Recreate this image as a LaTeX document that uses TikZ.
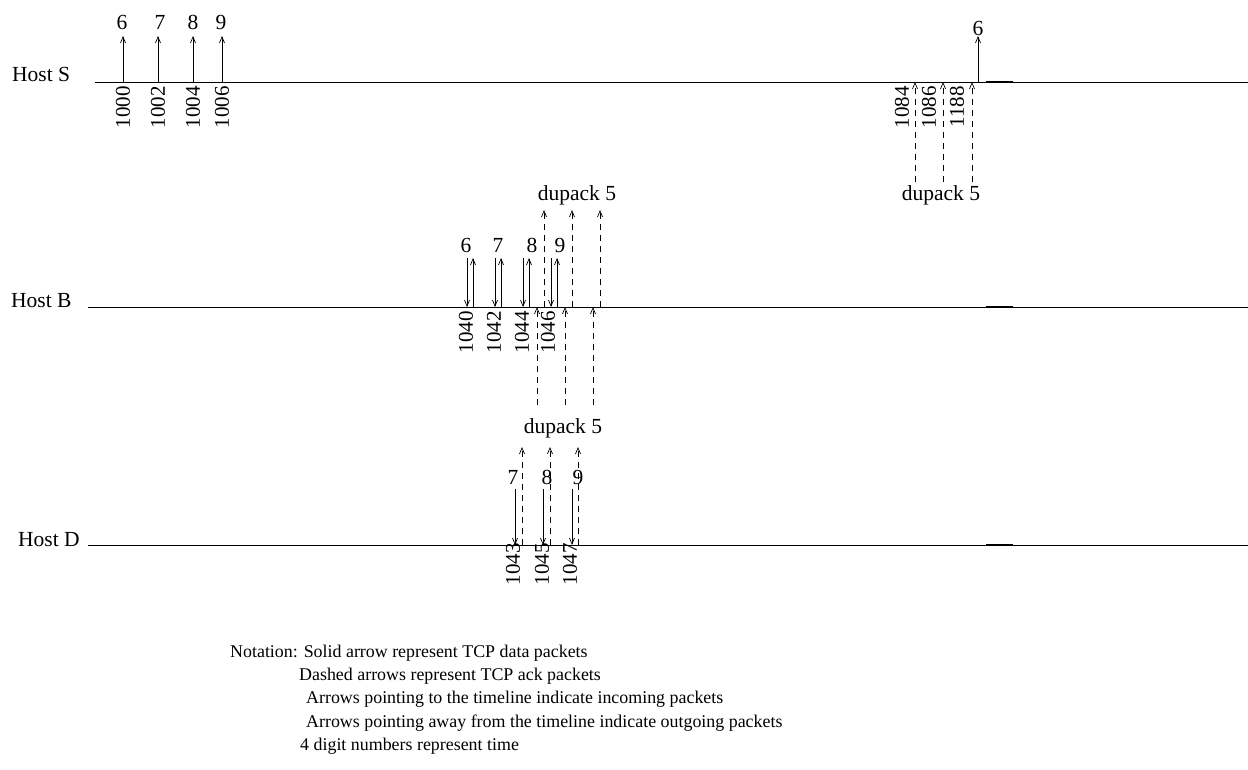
\documentclass[tikz,border=0pt]{standalone}
\usepackage{fontspec}
\setmainfont{Liberation Serif}
\usetikzlibrary{arrows.meta}
\begin{document}
\begin{tikzpicture}[x=1pt,y=-1pt,
  tl/.style={line width=0.7pt},
  tlk/.style={line width=1.1pt},
  data/.style={line width=0.7pt,-{Straight Barb[length=6pt,width=5pt]}},
  ack/.style={data,dash pattern=on 6pt off 5pt},
  lbl/.style={font=\fontsize{21.5}{24}\selectfont,inner sep=0pt},
  hst/.style={lbl,anchor=base west},
  tm/.style={font=\fontsize{21}{24}\selectfont,rotate=90,anchor=east,inner sep=0pt},
  note/.style={font=\fontsize{17.9}{20}\selectfont,anchor=base west,inner sep=0pt}]
\useasboundingbox (0,0) rectangle (1248,770);

% ---------------- timelines ----------------
\node[hst] (hS) at (12,82) {Host S};
\node[hst] (hB) at (11,307) {Host B};
\node[hst] (hD) at (18,546) {Host D};
\coordinate (S0) at (95,82);   \coordinate (S1) at (1248,82);
\coordinate (B0) at (88,307);  \coordinate (B1) at (1248,307);
\coordinate (D0) at (88,545);  \coordinate (D1) at (1248,545);
\draw[tl] (S0) -- (S1);
\draw[tl] (B0) -- (B1);
\draw[tl] (D0) -- (D1);
\coordinate (Sk0) at (986,82);  \coordinate (Sk1) at (1013,82);
\coordinate (Bk0) at (986,307); \coordinate (Bk1) at (1013,307);
\coordinate (Dk0) at (986,545); \coordinate (Dk1) at (1013,545);
\draw[tlk] (Sk0) -- (Sk1);
\draw[tlk] (Bk0) -- (Bk1);
\draw[tlk] (Dk0) -- (Dk1);

% ---------------- Host S ----------------
\foreach \n/\px/\t/\lab/\lx in {a/123/1000/6/122, b/158/1002/7/160, c/193/1004/8/193, d/222/1006/9/221} {
  \coordinate (Sa\n) at (\px,82);
  \coordinate (Sb\n) at (\px,36);
  \draw[data] (Sa\n) -- (Sb\n);
  \node[lbl] (Sl\n) at (\lx,22) {\lab};
  \node[tm] (St\n) at (\px,86) {\t};
}
\coordinate (Sra) at (978,82);
\coordinate (Srb) at (978,36);
\draw[data] (Sra) -- (Srb);
\node[lbl] (Srl) at (978,28) {6};
\foreach \n/\px/\t/\tx in {a/915/1084/902, b/943/1086/929, c/972/1188/957} {
  \coordinate (Sk\n) at (\px,182);
  \coordinate (Sh\n) at (\px,82);
  \draw[ack] (Sk\n) -- (Sh\n);
  \node[tm] (Stt\n) at (\tx,86) {\t};
}
\node[lbl] (Sdup) at (941,195) {dupack 5};

% ---------------- Host B ----------------
\foreach \n/\pin/\pout/\lab/\lx/\t/\tx in {a/467/473/6/466/1040/466, b/495/501/7/498/1042/494, c/523/529/8/532/1044/522, d/551/557/9/560/1046/548} {
  \coordinate (Bi\n) at (\pin,258);
  \coordinate (Bj\n) at (\pin,307);
  \draw[data] (Bi\n) -- (Bj\n);
  \coordinate (Bo\n) at (\pout,307);
  \coordinate (Bp\n) at (\pout,258);
  \draw[data] (Bo\n) -- (Bp\n);
  \node[lbl] (Bl\n) at (\lx,245) {\lab};
  \node[tm] (Bt\n) at (\tx,311) {\t};
}
\foreach \n/\px in {a/544, b/572, c/600} {
  \coordinate (Bu\n) at (\px,307);
  \coordinate (Bv\n) at (\px,210);
  \draw[ack] (Bu\n) -- (Bv\n);
}
\node[lbl] (Bdup) at (577,195) {dupack 5};
\foreach \n/\px in {a/537, b/565, c/593} {
  \coordinate (Bw\n) at (\px,405);
  \coordinate (Bx\n) at (\px,307);
  \draw[ack] (Bw\n) -- (Bx\n);
}

% ---------------- Host D ----------------
\node[lbl] (Ddup) at (563,428) {dupack 5};
\foreach \n/\pin/\pout/\lab/\lx/\t/\tx in {a/515/522/7/513/1043/513, b/543/550/8/547/1045/542, c/572/578/9/578/1047/570} {
  \node[lbl] (Dl\n) at (\lx,477) {\lab};
  \coordinate (Di\n) at (\pin,489);
  \coordinate (Dj\n) at (\pin,545);
  \draw[data] (Di\n) -- (Dj\n);
  \coordinate (Do\n) at (\pout,545);
  \coordinate (Dp\n) at (\pout,447);
  \draw[ack] (Do\n) -- (Dp\n);
  \node[tm] (Dt\n) at (\tx,543) {\t};
}

% ---------------- notation ----------------
\node[note] (n1) at (230,657) {Notation: Solid arrow represent TCP data packets};
\node[note] (n2) at (299,680) {Dashed arrows represent TCP ack packets};
\node[note] (n3) at (306,703.5) {Arrows pointing to the timeline indicate incoming packets};
\node[note] (n4) at (306,727) {Arrows pointing away from the timeline indicate outgoing packets};
\node[note] (n5) at (300,750) {4 digit numbers represent time};
\end{tikzpicture}
\end{document}
